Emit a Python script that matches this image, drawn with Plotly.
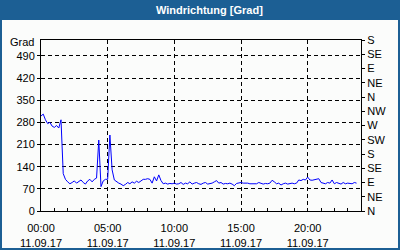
import pandas as pd
import plotly.graph_objects as go

# Wind direction [deg], 10-minute samples starting 11.09.17 00:00
values = [
    300, 306, 288, 276, 280, 268,   # 00h
    264, 270, 262, 288, 118, 100,   # 01h
    92, 86, 90, 95, 88, 92,         # 02h
    98, 90, 85, 95, 100, 92,        # 03h
    100, 104, 224, 77, 95, 100,     # 04h
    100, 240, 130, 98, 92, 88,      # 05h
    85, 80, 84, 90, 86, 92,         # 06h
    88, 94, 90, 96, 100, 100,       # 07h
    102, 100, 88, 108, 95, 114,     # 08h
    96, 86, 88, 85, 87, 86,         # 09h
    88, 85, 86, 90, 84, 88,         # 10h
    86, 92, 85, 88, 90, 86,         # 11h
    84, 88, 90, 85, 86, 88,         # 12h
    92, 96, 88, 90, 85, 87,         # 13h
    86, 88, 85, 80, 87, 88,         # 14h
    90, 88, 89, 88, 86, 86,         # 15h
    88, 86, 90, 88, 85, 87,         # 16h
    86, 88, 97, 92, 86, 88,         # 17h
    82, 86, 88, 85, 87, 88,         # 18h
    86, 88, 98, 96, 100, 98,        # 19h
    107, 98, 97, 98, 99, 102,       # 20h
    90, 88, 86, 90, 88, 98,         # 21h
    86, 90, 88, 85, 90, 86,         # 22h
    88, 87, 86, 90, 88,             # 23h
]
times = pd.date_range("2017-09-11 00:00", periods=len(values), freq="10min")

x_tickvals = ["2017-09-11 00:00", "2017-09-11 05:00", "2017-09-11 10:00",
              "2017-09-11 15:00", "2017-09-11 20:00"]
x_ticktext = ["00:00<br>11.09.17", "05:00<br>11.09.17", "10:00<br>11.09.17",
              "15:00<br>11.09.17", "20:00<br>11.09.17"]
y_tickvals = [0, 70, 140, 210, 280, 350, 420, 490]
dir_tickvals = [0, 45, 90, 135, 180, 225, 270, 315, 360, 405, 450, 495, 540]
dir_ticktext = ["N", "NE", "E", "SE", "S", "SW", "W", "NW", "N", "NE", "E", "SE", "S"]

BLUE = "#1c5f94"
FONT = "Liberation Sans"

fig = go.Figure()
fig.add_trace(go.Scatter(x=times, y=values, mode="lines",
                         line=dict(color="#0000ff", width=1), showlegend=False,
                         hoverinfo="skip"))
fig.add_trace(go.Scatter(x=times, y=values, mode="lines", yaxis="y2",
                         line=dict(color="rgba(0,0,0,0)", width=0), showlegend=False,
                         hoverinfo="skip"))

fig.update_layout(
    width=400, height=250,
    margin=dict(l=41, r=39, t=40, b=39, autoexpand=False),
    paper_bgcolor="#fbfcfb", plot_bgcolor="#fbfcfb",
    font=dict(family=FONT, size=11, color="black"),
    xaxis=dict(
        type="date", automargin=False,
        range=["2017-09-11 00:00", "2017-09-12 00:00"],
        tickmode="array", tickvals=x_tickvals, ticktext=x_ticktext,
        ticks="inside", ticklen=3, tickcolor="black",
        ticklabelstandoff=7,
        showgrid=True, gridcolor="black", gridwidth=1, griddash="4px,3px",
        showline=True, linecolor="black", linewidth=1, mirror=True,
        zeroline=False,
        minor=dict(dtick=3600000, tick0="2017-09-11", ticks="inside",
                   ticklen=3, tickcolor="black", showgrid=False),
        tickfont=dict(family=FONT, size=11),
    ),
    yaxis=dict(
        range=[0, 540], automargin=False,
        tickmode="array", tickvals=y_tickvals,
        ticks="outside", ticklen=3, tickcolor="black",
        showgrid=True, gridcolor="black", gridwidth=1, griddash="4px,3px",
        showline=True, linecolor="black", linewidth=1, mirror=True,
        zeroline=False,
        tickfont=dict(family=FONT, size=11),
    ),
    yaxis2=dict(
        range=[0, 540], overlaying="y", side="right", anchor="x", automargin=False,
        tickmode="array", tickvals=dir_tickvals, ticktext=dir_ticktext,
        ticks="outside", ticklen=3, tickcolor="black",
        showgrid=False, showline=False, zeroline=False,
        tickfont=dict(family=FONT, size=11),
    ),
    shapes=[
        dict(type="rect", xref="paper", yref="paper",
             x0=-0.13, x1=1.125, y0=(211 - 20) / 171, y1=1.24,
             fillcolor=BLUE, line=dict(width=0), layer="above"),
        dict(type="rect", xref="paper", yref="paper",
             x0=(1 - 41) / 320, x1=(399 - 41) / 320,
             y0=(211 - 249) / 171, y1=(211 - 1) / 171,
             line=dict(color=BLUE, width=2), fillcolor="rgba(0,0,0,0)", layer="above"),
    ],
    annotations=[
        dict(text="<b>Windrichtung [Grad]</b>", xref="paper", yref="paper",
             x=(209 - 41) / 320, y=(211 - 10) / 171, xanchor="center", yanchor="middle",
             showarrow=False, font=dict(family=FONT, size=11, color="white")),
        dict(text="Grad", xref="paper", yref="paper",
             x=(36 - 41) / 320, y=(211 - 42) / 171, xanchor="right", yanchor="middle",
             showarrow=False, font=dict(family=FONT, size=11, color="black")),
    ],
)

fig.write_html("out.html")
